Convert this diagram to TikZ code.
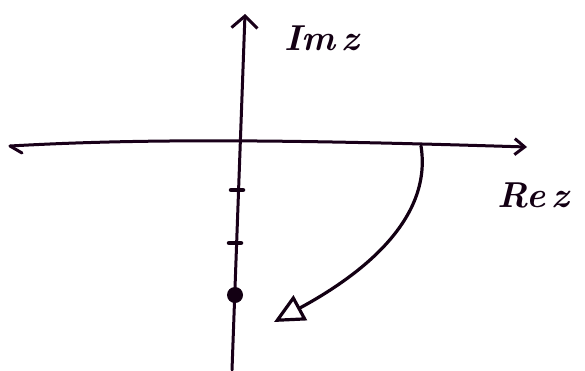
\documentclass[tikz,border=0pt]{standalone}
\usetikzlibrary{arrows.meta}
\begin{document}
\begin{tikzpicture}[x=1pt,y=-1pt,
  ink/.style={draw=black!85!violet, line width=3.2pt, line cap=round, line join=round},
  axisline/.style={draw=black!80!violet, line width=3pt, line cap=round},
  tickmark/.style={draw=black!85!violet, line width=4.5pt, line cap=round},
  lbl/.style={font=\bfseries\itshape\fontsize{36}{36}\selectfont, text=black!85!violet}]
\useasboundingbox (0,0) rectangle (585,370);
% axes
\coordinate (xl) at (10,146);
\coordinate (xr) at (527,147);
\coordinate (yb) at (232,370);
\coordinate (yt) at (245,14);
\draw[axisline, -{Straight Barb[length=10pt,width=16pt]}] (xl) .. controls (150,138) and (300,140) .. (xr);
\draw[axisline] (xl) -- (22,153);
\draw[axisline, -{Straight Barb[length=12pt,width=26pt]}] (yb) -- (yt);
% ticks
\coordinate (t1) at (237,190);
\coordinate (t2) at (235,243);
\draw[tickmark] ([xshift=-6pt]t1) -- ([xshift=6pt]t1);
\draw[tickmark] ([xshift=-6pt]t2) -- ([xshift=6pt]t2);
% dot
\node[circle, fill=black!85!violet, inner sep=0pt, minimum size=16pt] (pt) at (235,295) {};
% labels
\node[lbl] (im) at (322,38) {Im\,z};
\node[lbl] (re) at (533,195) {Re\,z};
% curved arrow
\coordinate (start) at (421,146);
\coordinate (finish) at (274,322);
\draw[ink, -{Triangle[open,length=30pt,width=28pt,line width=3.2pt]}] (start) .. controls (432,215) and (370,270) .. (finish);
\end{tikzpicture}
\end{document}
